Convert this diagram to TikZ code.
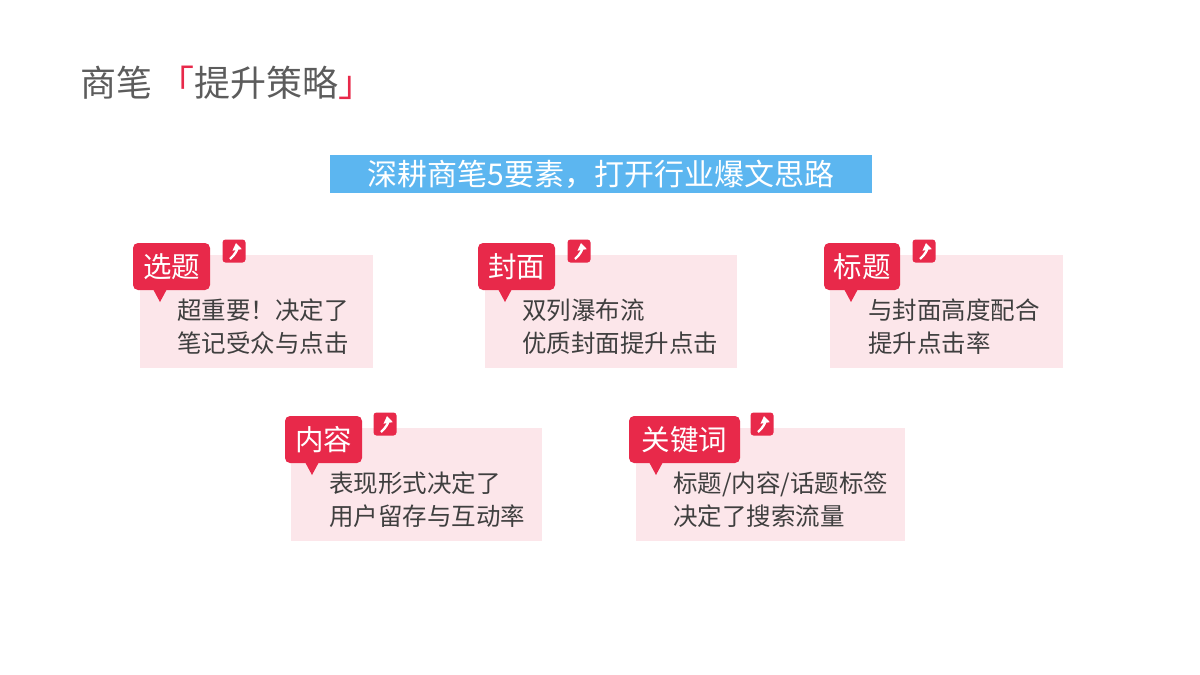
\documentclass[tikz,border=0pt]{standalone}
\usepackage{fontspec}
\newfontfamily\cjk{Noto Sans CJK SC}
\usetikzlibrary{arrows.meta}
\definecolor{tagred}{HTML}{E8294A}
\definecolor{cardpink}{HTML}{FCE6EA}
\definecolor{banner}{HTML}{5CB6F0}
\definecolor{txt}{HTML}{3F3F3F}
\tikzset{
 card/.style={fill=cardpink,draw=none},
 tag/.style={fill=tagred,rounded corners=5pt,draw=none},
 icon/.style={fill=tagred,rounded corners=3pt,draw=none,minimum size=23pt,inner sep=0pt},
 tagtext/.style={text=white,font=\cjk\fontsize{28.5}{30}\selectfont,anchor=center},
 bodytext/.style={text=txt,font=\cjk\fontsize{24.5}{33}\selectfont,align=left,anchor=north west,inner sep=0pt}
}
% #1 name, #2 card x0, #3 card y0, #4 card x1, #5 tag x0, #6 tag x1, #7 icon x, #8 tag label, #9 body
\newcommand\mycard[9]{%
 \fill[card] (#2,#3) rectangle (#4,#3+113);
 \fill[tag] (#5,#3-12) rectangle (#6,#3+35);
 \fill[tagred] (#5+20,#3+34) -- (#5+27,#3+47) -- (#5+34,#3+34) -- cycle;
 \node[tagtext] (#1t) at ({(#5+#6)/2},#3+11.5) {#8};
 \node[icon] (#1i) at (#7,#3-4) {};
 \draw[white,line width=2.4pt,-{Triangle[length=7pt,width=9pt]}] ([shift={(-4,8)}]#1i.center) to[bend right=30] ([shift={(2,-8)}]#1i.center);
 \node[bodytext] (#1b) at (#5+44,#3+44) {#9};
}
\begin{document}
\begin{tikzpicture}[x=1pt,y=-1pt]
\useasboundingbox[fill=white] (0,0) rectangle (1200,675);
\node[anchor=west,inner sep=0pt,font=\cjk\fontsize{36}{38}\selectfont,text=txt!85] (title) at (80,83)
 {商笔\,\textcolor{tagred}{「}提升策略\textcolor{tagred}{」}};
\node[fill=banner,minimum width=542pt,minimum height=38pt,inner sep=0pt,text=white,font=\cjk\fontsize{30}{32}\selectfont] (ban) at (601,174) {深耕商笔5要素，打开行业爆文思路};
\mycard{a}{140}{255}{373}{133}{210}{234}{选题}{超重要！决定了\\笔记受众与点击}
\mycard{b}{485}{255}{737}{478}{555}{579}{封面}{双列瀑布流\\优质封面提升点击}
\mycard{c}{830}{255}{1063}{824}{900}{924}{标题}{与封面高度配合\\提升点击率}
\mycard{d}{291}{428}{542}{285}{362}{385}{内容}{表现形式决定了\\用户留存与互动率}
\mycard{e}{636}{428}{905}{629}{740}{762}{关键词}{标题/内容/话题标签\\决定了搜索流量}
\end{tikzpicture}
\end{document}
